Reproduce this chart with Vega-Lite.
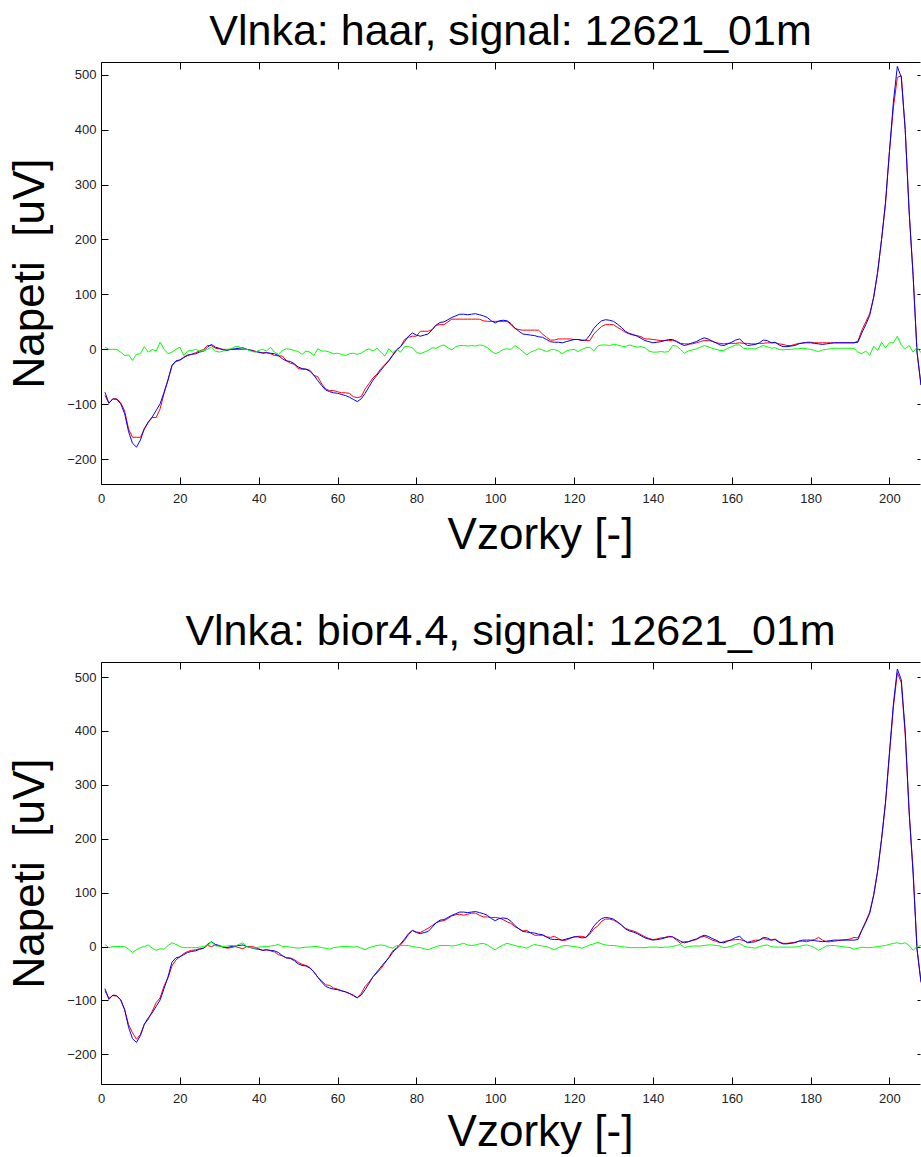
{
"$schema": "https://vega.github.io/schema/vega-lite/v6.json",
"background": "white",
"padding": {"left": 8, "top": 10, "right": 0, "bottom": 0},
"spacing": 53,
"config": {
  "view": {"stroke": null},
  "font": "Liberation Sans",
  "axis": {"grid": false, "domainColor": "#000000", "tickColor": "#000000", "tickSize": -7, "labelFontSize": 13, "labelColor": "#222222", "labelPadding": 12, "labelFlush": false, "titleFontSize": 44, "titleFontWeight": "normal", "titleColor": "#000000", "domainWidth": 1, "tickWidth": 1, "labelFont": "Liberation Sans", "titleFont": "Liberation Sans"},
  "title": {"fontSize": 43, "fontWeight": "normal", "color": "#000000", "font": "Liberation Sans", "offset": 8}
},
"datasets": {"sig": [
{"s":1,"o":-78,"h":-84,"hn":4,"b":-82,"bn":4},
{"s":2,"o":-98,"h":-98,"hn":0,"b":-96,"bn":-2},
{"s":3,"o":-90,"h":-90,"hn":0,"b":-91,"bn":0},
{"s":4,"o":-91,"h":-90,"hn":0,"b":-92,"bn":0},
{"s":5,"o":-99,"h":-97,"hn":-5,"b":-99,"bn":0},
{"s":6,"o":-117,"h":-112,"hn":-11,"b":-117,"bn":0},
{"s":7,"o":-150,"h":-145,"hn":-10,"b":-145,"bn":-5},
{"s":8,"o":-171,"h":-160,"hn":-20,"b":-160,"bn":-11},
{"s":9,"o":-178,"h":-160,"hn":-9,"b":-172,"bn":-6},
{"s":10,"o":-165,"h":-160,"hn":-8,"b":-163,"bn":-2},
{"s":11,"o":-144,"h":-145,"hn":5,"b":-144,"bn":0},
{"s":12,"o":-132,"h":-133,"hn":-5,"b":-135,"bn":3},
{"s":13,"o":-123,"h":-124,"hn":0,"b":-120,"bn":-3},
{"s":14,"o":-111,"h":-124,"hn":-3,"b":-104,"bn":-7},
{"s":15,"o":-99,"h":-108,"hn":13,"b":-95,"bn":-4},
{"s":16,"o":-78,"h":-80,"hn":0,"b":-73,"bn":-5},
{"s":17,"o":-56,"h":-55,"hn":-8,"b":-58,"bn":2},
{"s":18,"o":-29,"h":-30,"hn":-5,"b":-36,"bn":7},
{"s":19,"o":-21,"h":-22,"hn":0,"b":-25,"bn":4},
{"s":20,"o":-19,"h":-20,"hn":4,"b":-19,"bn":0},
{"s":21,"o":-15,"h":-14,"hn":-11,"b":-13,"bn":-2},
{"s":22,"o":-11,"h":-10,"hn":-3,"b":-9,"bn":-2},
{"s":23,"o":-9,"h":-9,"hn":-2,"b":-7,"bn":-2},
{"s":24,"o":-8,"h":-6,"hn":0,"b":-6,"bn":-2},
{"s":25,"o":-5,"h":-3,"hn":-3,"b":-4,"bn":-1},
{"s":26,"o":-3,"h":0,"hn":-3,"b":-3,"bn":0},
{"s":27,"o":4,"h":7,"hn":0,"b":2,"bn":2},
{"s":28,"o":9,"h":7,"hn":4,"b":0,"bn":9},
{"s":29,"o":4,"h":2,"hn":-3,"b":3,"bn":1},
{"s":30,"o":2,"h":1,"hn":-5,"b":1,"bn":1},
{"s":31,"o":-1,"h":0,"hn":-3,"b":-1,"bn":0},
{"s":32,"o":-2,"h":0,"hn":0,"b":-3,"bn":1},
{"s":33,"o":0,"h":0,"hn":1,"b":-2,"bn":2},
{"s":34,"o":1,"h":0,"hn":5,"b":0,"bn":1},
{"s":35,"o":2,"h":0,"hn":5,"b":-2,"bn":4},
{"s":36,"o":3,"h":0,"hn":1,"b":-4,"bn":7},
{"s":37,"o":0,"h":0,"hn":0,"b":0,"bn":0},
{"s":38,"o":-2,"h":-1,"hn":-3,"b":0,"bn":-2},
{"s":39,"o":-4,"h":-3,"hn":-5,"b":-1,"bn":-3},
{"s":40,"o":-5,"h":-5,"hn":-2,"b":-4,"bn":-1},
{"s":41,"o":-7,"h":-6,"hn":0,"b":-7,"bn":0},
{"s":42,"o":-6,"h":-6,"hn":-3,"b":-6,"bn":0},
{"s":43,"o":-7,"h":-8,"hn":4,"b":-8,"bn":1},
{"s":44,"o":-8,"h":-11,"hn":-5,"b":-10,"bn":2},
{"s":45,"o":-11,"h":-12,"hn":-9,"b":-15,"bn":4},
{"s":46,"o":-17,"h":-12,"hn":-2,"b":-17,"bn":0},
{"s":47,"o":-21,"h":-20,"hn":1,"b":-21,"bn":0},
{"s":48,"o":-22,"h":-25,"hn":0,"b":-21,"bn":-1},
{"s":49,"o":-26,"h":-27,"hn":-2,"b":-24,"bn":-2},
{"s":50,"o":-32,"h":-35,"hn":-4,"b":-29,"bn":-3},
{"s":51,"o":-35,"h":-36,"hn":-9,"b":-33,"bn":-2},
{"s":52,"o":-36,"h":-36,"hn":-3,"b":-35,"bn":-1},
{"s":53,"o":-40,"h":-38,"hn":-5,"b":-39,"bn":-1},
{"s":54,"o":-47,"h":-47,"hn":-11,"b":-47,"bn":0},
{"s":55,"o":-57,"h":-50,"hn":1,"b":-57,"bn":0},
{"s":56,"o":-66,"h":-63,"hn":-3,"b":-64,"bn":-2},
{"s":57,"o":-74,"h":-72,"hn":-3,"b":-71,"bn":-3},
{"s":58,"o":-77,"h":-75,"hn":-5,"b":-72,"bn":-5},
{"s":59,"o":-79,"h":-75,"hn":-8,"b":-77,"bn":-2},
{"s":60,"o":-80,"h":-77,"hn":-7,"b":-79,"bn":-1},
{"s":61,"o":-82,"h":-79,"hn":-9,"b":-82,"bn":0},
{"s":62,"o":-84,"h":-79,"hn":-11,"b":-84,"bn":0},
{"s":63,"o":-87,"h":-80,"hn":-8,"b":-87,"bn":0},
{"s":64,"o":-91,"h":-86,"hn":-7,"b":-90,"bn":-1},
{"s":65,"o":-95,"h":-88,"hn":-9,"b":-95,"bn":0},
{"s":66,"o":-90,"h":-86,"hn":-7,"b":-87,"bn":-3},
{"s":67,"o":-80,"h":-72,"hn":-2,"b":-74,"bn":-6},
{"s":68,"o":-68,"h":-62,"hn":1,"b":-66,"bn":-2},
{"s":69,"o":-56,"h":-52,"hn":-3,"b":-56,"bn":0},
{"s":70,"o":-47,"h":-45,"hn":2,"b":-49,"bn":2},
{"s":71,"o":-38,"h":-35,"hn":-5,"b":-41,"bn":3},
{"s":72,"o":-29,"h":-28,"hn":-12,"b":-31,"bn":2},
{"s":73,"o":-21,"h":-20,"hn":1,"b":-20,"bn":-1},
{"s":74,"o":-11,"h":-10,"hn":-6,"b":-8,"bn":-3},
{"s":75,"o":-2,"h":0,"hn":0,"b":-4,"bn":2},
{"s":76,"o":5,"h":5,"hn":-5,"b":3,"bn":2},
{"s":77,"o":14,"h":18,"hn":5,"b":12,"bn":2},
{"s":78,"o":24,"h":22,"hn":5,"b":22,"bn":2},
{"s":79,"o":30,"h":24,"hn":3,"b":30,"bn":0},
{"s":80,"o":26,"h":24,"hn":-5,"b":27,"bn":-1},
{"s":81,"o":24,"h":33,"hn":-8,"b":26,"bn":-2},
{"s":82,"o":26,"h":33,"hn":-5,"b":30,"bn":-4},
{"s":83,"o":28,"h":33,"hn":-2,"b":34,"bn":-6},
{"s":84,"o":36,"h":36,"hn":3,"b":39,"bn":-3},
{"s":85,"o":44,"h":44,"hn":2,"b":44,"bn":0},
{"s":86,"o":49,"h":45,"hn":6,"b":47,"bn":2},
{"s":87,"o":50,"h":45,"hn":8,"b":48,"bn":2},
{"s":88,"o":54,"h":50,"hn":3,"b":52,"bn":2},
{"s":89,"o":58,"h":55,"hn":-1,"b":57,"bn":1},
{"s":90,"o":61,"h":55,"hn":5,"b":59,"bn":2},
{"s":91,"o":64,"h":55,"hn":7,"b":60,"bn":4},
{"s":92,"o":64,"h":55,"hn":7,"b":58,"bn":6},
{"s":93,"o":63,"h":55,"hn":6,"b":60,"bn":3},
{"s":94,"o":64,"h":55,"hn":7,"b":62,"bn":2},
{"s":95,"o":65,"h":55,"hn":6,"b":62,"bn":3},
{"s":96,"o":63,"h":55,"hn":8,"b":58,"bn":5},
{"s":97,"o":61,"h":52,"hn":7,"b":55,"bn":6},
{"s":98,"o":58,"h":51,"hn":3,"b":55,"bn":3},
{"s":99,"o":52,"h":51,"hn":-3,"b":54,"bn":-2},
{"s":100,"o":48,"h":51,"hn":-8,"b":54,"bn":-6},
{"s":101,"o":52,"h":51,"hn":-5,"b":53,"bn":-1},
{"s":102,"o":53,"h":51,"hn":0,"b":50,"bn":3},
{"s":103,"o":52,"h":51,"hn":1,"b":46,"bn":6},
{"s":104,"o":47,"h":45,"hn":0,"b":43,"bn":4},
{"s":105,"o":39,"h":38,"hn":7,"b":37,"bn":2},
{"s":106,"o":33,"h":36,"hn":2,"b":33,"bn":0},
{"s":107,"o":28,"h":35,"hn":-4,"b":29,"bn":-1},
{"s":108,"o":27,"h":35,"hn":-10,"b":30,"bn":-3},
{"s":109,"o":26,"h":35,"hn":-5,"b":25,"bn":1},
{"s":110,"o":25,"h":35,"hn":-2,"b":21,"bn":4},
{"s":111,"o":23,"h":35,"hn":1,"b":21,"bn":2},
{"s":112,"o":22,"h":28,"hn":-1,"b":21,"bn":1},
{"s":113,"o":18,"h":22,"hn":-4,"b":18,"bn":0},
{"s":114,"o":14,"h":17,"hn":-1,"b":17,"bn":-3},
{"s":115,"o":13,"h":17,"hn":0,"b":19,"bn":-6},
{"s":116,"o":13,"h":19,"hn":-3,"b":15,"bn":-2},
{"s":117,"o":12,"h":19,"hn":-8,"b":11,"bn":1},
{"s":118,"o":14,"h":19,"hn":-3,"b":12,"bn":2},
{"s":119,"o":16,"h":19,"hn":-1,"b":15,"bn":1},
{"s":120,"o":18,"h":18,"hn":0,"b":18,"bn":0},
{"s":121,"o":18,"h":18,"hn":-4,"b":19,"bn":-1},
{"s":122,"o":16,"h":17,"hn":0,"b":19,"bn":-3},
{"s":123,"o":17,"h":16,"hn":3,"b":17,"bn":0},
{"s":124,"o":26,"h":16,"hn":4,"b":23,"bn":3},
{"s":125,"o":38,"h":28,"hn":-3,"b":33,"bn":5},
{"s":126,"o":46,"h":35,"hn":6,"b":38,"bn":8},
{"s":127,"o":52,"h":42,"hn":8,"b":47,"bn":5},
{"s":128,"o":54,"h":45,"hn":8,"b":51,"bn":3},
{"s":129,"o":53,"h":45,"hn":7,"b":51,"bn":2},
{"s":130,"o":51,"h":45,"hn":9,"b":49,"bn":2},
{"s":131,"o":46,"h":40,"hn":8,"b":45,"bn":1},
{"s":132,"o":40,"h":36,"hn":6,"b":40,"bn":0},
{"s":133,"o":33,"h":31,"hn":5,"b":34,"bn":-1},
{"s":134,"o":29,"h":28,"hn":8,"b":31,"bn":-2},
{"s":135,"o":27,"h":26,"hn":6,"b":29,"bn":-2},
{"s":136,"o":24,"h":25,"hn":4,"b":26,"bn":-2},
{"s":137,"o":20,"h":23,"hn":5,"b":22,"bn":-2},
{"s":138,"o":16,"h":19,"hn":3,"b":18,"bn":-2},
{"s":139,"o":14,"h":19,"hn":-3,"b":15,"bn":-1},
{"s":140,"o":12,"h":18,"hn":-5,"b":13,"bn":-1},
{"s":141,"o":13,"h":17,"hn":-5,"b":14,"bn":-1},
{"s":142,"o":14,"h":16,"hn":-4,"b":16,"bn":-2},
{"s":143,"o":16,"h":16,"hn":-5,"b":17,"bn":-1},
{"s":144,"o":18,"h":16,"hn":-4,"b":19,"bn":-1},
{"s":145,"o":18,"h":16,"hn":7,"b":18,"bn":0},
{"s":146,"o":14,"h":15,"hn":6,"b":12,"bn":2},
{"s":147,"o":10,"h":11,"hn":0,"b":6,"bn":4},
{"s":148,"o":7,"h":10,"hn":-7,"b":9,"bn":-2},
{"s":149,"o":9,"h":10,"hn":-3,"b":9,"bn":0},
{"s":150,"o":12,"h":10,"hn":-1,"b":11,"bn":1},
{"s":151,"o":14,"h":12,"hn":1,"b":13,"bn":1},
{"s":152,"o":18,"h":14,"hn":4,"b":17,"bn":1},
{"s":153,"o":21,"h":16,"hn":7,"b":19,"bn":2},
{"s":154,"o":19,"h":16,"hn":5,"b":16,"bn":3},
{"s":155,"o":15,"h":15,"hn":2,"b":12,"bn":3},
{"s":156,"o":12,"h":12,"hn":0,"b":10,"bn":2},
{"s":157,"o":8,"h":11,"hn":-2,"b":7,"bn":1},
{"s":158,"o":7,"h":10,"hn":-2,"b":9,"bn":-2},
{"s":159,"o":10,"h":11,"hn":2,"b":11,"bn":-1},
{"s":160,"o":13,"h":11,"hn":5,"b":12,"bn":1},
{"s":161,"o":17,"h":11,"hn":8,"b":13,"bn":4},
{"s":162,"o":19,"h":12,"hn":8,"b":13,"bn":6},
{"s":163,"o":12,"h":11,"hn":2,"b":11,"bn":1},
{"s":164,"o":7,"h":11,"hn":1,"b":8,"bn":-1},
{"s":165,"o":8,"h":10,"hn":1,"b":10,"bn":-2},
{"s":166,"o":9,"h":10,"hn":1,"b":12,"bn":-3},
{"s":167,"o":12,"h":11,"hn":4,"b":12,"bn":0},
{"s":168,"o":17,"h":11,"hn":7,"b":15,"bn":2},
{"s":169,"o":16,"h":12,"hn":5,"b":13,"bn":3},
{"s":170,"o":12,"h":12,"hn":2,"b":12,"bn":0},
{"s":171,"o":13,"h":12,"hn":3,"b":14,"bn":-1},
{"s":172,"o":8,"h":10,"hn":0,"b":9,"bn":-1},
{"s":173,"o":5,"h":9,"hn":-1,"b":6,"bn":-1},
{"s":174,"o":5,"h":7,"hn":0,"b":6,"bn":-1},
{"s":175,"o":6,"h":7,"hn":0,"b":7,"bn":-1},
{"s":176,"o":7,"h":9,"hn":1,"b":8,"bn":-1},
{"s":177,"o":10,"h":11,"hn":1,"b":10,"bn":0},
{"s":178,"o":12,"h":11,"hn":2,"b":10,"bn":2},
{"s":179,"o":12,"h":13,"hn":1,"b":9,"bn":3},
{"s":180,"o":12,"h":13,"hn":0,"b":11,"bn":1},
{"s":181,"o":11,"h":12,"hn":-2,"b":13,"bn":-2},
{"s":182,"o":10,"h":12,"hn":-4,"b":17,"bn":-7},
{"s":183,"o":9,"h":12,"hn":-1,"b":12,"bn":-3},
{"s":184,"o":10,"h":12,"hn":0,"b":9,"bn":1},
{"s":185,"o":11,"h":12,"hn":1,"b":9,"bn":2},
{"s":186,"o":12,"h":12,"hn":2,"b":10,"bn":2},
{"s":187,"o":12,"h":12,"hn":2,"b":11,"bn":1},
{"s":188,"o":12,"h":12,"hn":2,"b":12,"bn":0},
{"s":189,"o":12,"h":12,"hn":2,"b":13,"bn":-1},
{"s":190,"o":12,"h":12,"hn":2,"b":14,"bn":-2},
{"s":191,"o":12,"h":12,"hn":2,"b":17,"bn":-5},
{"s":192,"o":13,"h":15,"hn":-5,"b":16,"bn":-3},
{"s":193,"o":30,"h":35,"hn":-8,"b":31,"bn":-1},
{"s":194,"o":45,"h":50,"hn":-3,"b":47,"bn":-2},
{"s":195,"o":62,"h":65,"hn":-11,"b":64,"bn":-2},
{"s":196,"o":95,"h":95,"hn":6,"b":96,"bn":-1},
{"s":197,"o":140,"h":140,"hn":-2,"b":140,"bn":0},
{"s":198,"o":200,"h":200,"hn":13,"b":199,"bn":1},
{"s":199,"o":268,"h":265,"hn":3,"b":266,"bn":2},
{"s":200,"o":360,"h":360,"hn":12,"b":356,"bn":4},
{"s":201,"o":450,"h":440,"hn":12,"b":444,"bn":6},
{"s":202,"o":515,"h":495,"hn":24,"b":508,"bn":7},
{"s":203,"o":495,"h":498,"hn":8,"b":490,"bn":5},
{"s":204,"o":400,"h":400,"hn":1,"b":393,"bn":7},
{"s":205,"o":250,"h":250,"hn":7,"b":248,"bn":2},
{"s":206,"o":135,"h":135,"hn":-5,"b":142,"bn":-7},
{"s":207,"o":-5,"h":-5,"hn":4,"b":-5,"bn":0},
{"s":208,"o":-65,"h":-65,"hn":-6,"b":-67,"bn":2}
]},
"vconcat": [
 {
  "title": "Vlnka: haar, signal: 12621_01m",
  "width": 819, "height": 422,
  "data": {"name": "sig"},
  "layer": [
   {"mark": {"type": "line", "color": "#ff0000", "strokeWidth": 1},
    "encoding": {
     "x": {"field": "s", "type": "quantitative", "scale": {"domain": [0, 207.75], "nice": false, "zero": false}, "axis": {"orient": "bottom", "title": "Vzorky [-]", "values": [0,20,40,60,80,100,120,140,160,180,200], "labelPadding": 15, "titlePadding": 8, "titleX": 439}},
     "y": {"field": "h", "type": "quantitative", "scale": {"domain": [-245, 523], "nice": false, "zero": false}, "axis": {"orient": "left", "title": "Napeti\u00a0 [uV]", "values": [-200,-100,0,100,200,300,400,500], "titlePadding": 14}}
    }},
   {"mark": {"type": "line", "color": "#0000ff", "strokeWidth": 1},
    "encoding": {
     "x": {"field": "s", "type": "quantitative", "axis": {"orient": "top", "labels": false, "title": null, "values": [0,20,40,60,80,100,120,140,160,180,200]}},
     "y": {"field": "o", "type": "quantitative", "axis": {"orient": "right", "labels": false, "title": null, "domain": false, "tickSize": -3, "values": [-200,-100,0,100,200,300,400,500]}}
    }},
   {"mark": {"type": "line", "color": "#00ff00", "strokeWidth": 1},
    "encoding": {
     "x": {"field": "s", "type": "quantitative", "axis": null},
     "y": {"field": "hn", "type": "quantitative", "axis": null}
    }}
  ],
  "resolve": {"axis": {"x": "independent", "y": "independent"}}
 },
 {
  "title": "Vlnka: bior4.4, signal: 12621_01m",
  "width": 819, "height": 422,
  "data": {"name": "sig"},
  "layer": [
   {"mark": {"type": "line", "color": "#ff0000", "strokeWidth": 1},
    "encoding": {
     "x": {"field": "s", "type": "quantitative", "scale": {"domain": [0, 207.75], "nice": false, "zero": false}, "axis": {"orient": "bottom", "title": "Vzorky [-]", "values": [0,20,40,60,80,100,120,140,160,180,200], "labelPadding": 15, "titlePadding": 5, "titleX": 439}},
     "y": {"field": "b", "type": "quantitative", "scale": {"domain": [-255, 528], "nice": false, "zero": false}, "axis": {"orient": "left", "title": "Napeti\u00a0 [uV]", "values": [-200,-100,0,100,200,300,400,500], "titlePadding": 14}}
    }},
   {"mark": {"type": "line", "color": "#0000ff", "strokeWidth": 1},
    "encoding": {
     "x": {"field": "s", "type": "quantitative", "axis": {"orient": "top", "labels": false, "title": null, "values": [0,20,40,60,80,100,120,140,160,180,200]}},
     "y": {"field": "o", "type": "quantitative", "axis": {"orient": "right", "labels": false, "title": null, "domain": false, "tickSize": -3, "values": [-200,-100,0,100,200,300,400,500]}}
    }},
   {"mark": {"type": "line", "color": "#00ff00", "strokeWidth": 1},
    "encoding": {
     "x": {"field": "s", "type": "quantitative", "axis": null},
     "y": {"field": "bn", "type": "quantitative", "axis": null}
    }}
  ],
  "resolve": {"axis": {"x": "independent", "y": "independent"}}
 }
]
}
